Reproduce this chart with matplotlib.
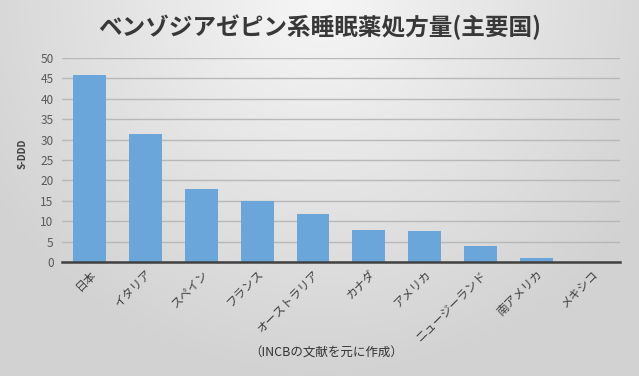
import numpy as np
import matplotlib
matplotlib.use("Agg")
import matplotlib.pyplot as plt

categories = ["日本", "イタリア", "スペイン", "フランス", "オーストラリア", "カナダ", "アメリカ", "ニュージーランド", "南アメリカ", "メキシコ"]
values = [45.8, 31.3, 17.8, 14.9, 11.7, 7.9, 7.6, 4.0, 1.0, 0.1]
yticks = [0, 5, 10, 15, 20, 25, 30, 35, 40, 45, 50]
title = "ベンゾジアゼピン系睡眠薬処方量(主要国)"
ylabel = "S-DDD"
caption = "（INCBの文献を元に作成）"

plt.rcParams['font.family'] = ['Noto Sans CJK JP', 'DejaVu Sans']

W, H = 639, 376
fig = plt.figure(figsize=(W/100, H/100), dpi=100)

# radial gradient background
bg = fig.add_axes([0, 0, 1, 1], zorder=-10)
yy, xx = np.mgrid[0:H, 0:W]
r = np.sqrt(((xx - W*0.5)/(W*0.6))**2 + ((yy - 0)/(H*1.0))**2)
r = np.clip(r, 0, 1)
val = 0.965 - 0.14*r
img = np.dstack([val, val, val])
bg.imshow(img, aspect='auto', extent=[0, 1, 0, 1], origin='upper')
bg.axis('off')

ax = fig.add_axes([0.097, 0.303, 0.873, 0.543])
ax.patch.set_alpha(0)
x = np.arange(len(categories))
ax.bar(x, values, width=0.59, color='#6ba6da', zorder=3)
ax.set_xlim(-0.5, len(categories)-0.5)
ax.set_ylim(0, 50)
ax.set_yticks(yticks)
ax.yaxis.grid(True, color='#b8b8b8', linewidth=1.0, zorder=0)
ax.tick_params(axis='y', length=0, labelsize=8.5, labelcolor='#595959', pad=6)
ax.tick_params(axis='x', length=0, labelsize=8.5, labelcolor='#404040', pad=4)
ax.set_xticks(x)
ax.set_xticklabels(categories, rotation=45, ha='right', va='top', rotation_mode='anchor')
for s in ['top', 'right', 'left']:
    ax.spines[s].set_visible(False)
ax.spines['bottom'].set_color('#404040')
ax.spines['bottom'].set_linewidth(1.8)
ax.spines['bottom'].set_zorder(4)

fig.text(0.5, 0.928, title, ha='center', va='center', fontsize=17, fontweight='bold', color='#383838')
fig.text(0.036, 0.59, ylabel, ha='center', va='center', rotation=90, fontsize=7, fontweight='bold', color='#404040')
fig.text(0.51, 0.062, caption, ha='center', va='center', fontsize=9, color='#333333')

fig.savefig("out.png", dpi=100)
